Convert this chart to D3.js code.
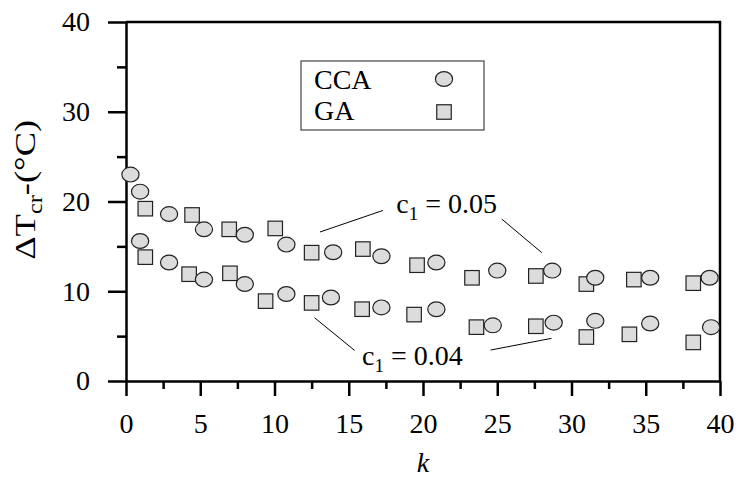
<!DOCTYPE html>
<html>
<head>
<meta charset="utf-8">
<script src="https://cdn.jsdelivr.net/npm/d3@7"></script>
<style>
  body { margin: 0; background: #fff; }
  svg text { font-family: "Liberation Serif", "Times New Roman", serif; fill: #000; }
</style>
</head>
<body>
<div id="chart"></div>
<script>
const width = 738;
const height = 483;
const margin = { top: 22, right: 18, bottom: 102, left: 126 };

// c1 = 0.05
const kCCA05 = [0.3, 0.95, 2.9, 5.25, 8.0, 10.8, 13.95, 17.2, 20.9, 25.0, 28.7, 31.6, 35.3, 39.3];
const tCCA05 = [23.0, 21.1, 18.6, 16.9, 16.3, 15.2, 14.35, 13.9, 13.2, 12.3, 12.3, 11.5, 11.5, 11.5];
const kGA05 = [1.3, 4.45, 6.95, 10.05, 12.5, 15.95, 19.6, 23.3, 27.6, 31.0, 34.2, 38.2];
const tGA05 = [19.2, 18.5, 16.9, 17.0, 14.3, 14.7, 12.9, 11.5, 11.7, 10.8, 11.3, 10.9];

// c1 = 0.04
const kCCA04 = [0.95, 2.9, 5.25, 8.0, 10.8, 13.8, 17.2, 20.9, 24.7, 28.8, 31.6, 35.3, 39.4];
const tCCA04 = [15.6, 13.2, 11.3, 10.8, 9.7, 9.3, 8.2, 8.0, 6.2, 6.5, 6.7, 6.4, 6.0];
const kGA04 = [1.3, 4.25, 7.0, 9.4, 12.5, 15.9, 19.4, 23.6, 27.6, 31.0, 33.9, 38.2];
const tGA04 = [13.8, 11.9, 12.0, 8.9, 8.7, 8.0, 7.4, 6.0, 6.1, 4.9, 5.2, 4.3];

const xMajor = [0, 5, 10, 15, 20, 25, 30, 35, 40];
const xMinor = [2.5, 7.5, 12.5, 17.5, 22.5, 27.5, 32.5, 37.5];
const yMajor = [0, 10, 20, 30, 40];
const yMinor = [5, 15, 25, 35];

const fillColor = "#dcdcdc";
const strokeColor = "#222";
const fs = 28;

const svg = d3.select("#chart")
    .append("svg")
    .attr("width", width)
    .attr("height", height);

const x = d3.scaleLinear().domain([0, 40]).range([margin.left, width - margin.right]);
const y = d3.scaleLinear().domain([0, 40]).range([height - margin.bottom, margin.top]);

// frame: top and right border
svg.append("path")
    .attr("d", `M${x(0)},${y(40)}H${x(40)}V${y(0)}`)
    .attr("fill", "none")
    .attr("stroke", "#000")
    .attr("stroke-width", 2.5);

// axes
function styleAxis(g) {
    g.select(".domain").attr("stroke-width", 2.5);
    g.selectAll(".tick line").attr("stroke-width", 2.5);
    g.selectAll(".tick text").style("font-size", fs + "px");
}

svg.append("g")
    .attr("transform", `translate(0,${y(0)})`)
    .call(d3.axisBottom(x).tickValues(xMinor).tickSize(8).tickFormat(""))
    .call(g => g.select(".domain").remove())
    .call(g => g.selectAll(".tick line").attr("stroke-width", 2.5));

svg.append("g")
    .attr("transform", `translate(0,${y(0)})`)
    .call(d3.axisBottom(x).tickValues(xMajor).tickSize(15).tickSizeOuter(0).tickPadding(17))
    .call(styleAxis);

svg.append("g")
    .attr("transform", `translate(${x(0)},0)`)
    .call(d3.axisLeft(y).tickValues(yMinor).tickSize(9).tickFormat(""))
    .call(g => g.select(".domain").remove())
    .call(g => g.selectAll(".tick line").attr("stroke-width", 2.5));

svg.append("g")
    .attr("transform", `translate(${x(0)},0)`)
    .call(d3.axisLeft(y).tickValues(yMajor).tickSize(18).tickSizeOuter(0).tickPadding(18))
    .call(styleAxis);

// axis titles
svg.append("text")
    .attr("x", x(20))
    .attr("y", 472)
    .attr("text-anchor", "middle")
    .style("font-size", fs + "px")
    .style("font-style", "italic")
    .text("k");

const yTitle = svg.append("text")
    .attr("transform", `translate(35,${y(21.3)}) rotate(-90)`)
    .attr("text-anchor", "middle")
    .attr("textLength", 140)
    .attr("lengthAdjust", "spacingAndGlyphs")
    .style("font-size", "30px");
yTitle.append("tspan").text("\u0394T");
yTitle.append("tspan").attr("dy", 7).style("font-size", "20px").text("cr");
yTitle.append("tspan").attr("dy", -7).text("-(\u00B0C)");

// markers
const rx = 8.6, ry = 7.4, sq = 14.5;

function circles(ks, ts) {
    svg.append("g").selectAll("ellipse")
        .data(d3.zip(ks, ts))
        .join("ellipse")
        .attr("cx", d => x(d[0]))
        .attr("cy", d => y(d[1]))
        .attr("rx", rx)
        .attr("ry", ry)
        .attr("fill", fillColor)
        .attr("stroke", strokeColor)
        .attr("stroke-width", 1.2);
}

function squares(ks, ts) {
    svg.append("g").selectAll("rect")
        .data(d3.zip(ks, ts))
        .join("rect")
        .attr("x", d => x(d[0]) - sq / 2)
        .attr("y", d => y(d[1]) - sq / 2)
        .attr("width", sq)
        .attr("height", sq)
        .attr("fill", fillColor)
        .attr("stroke", strokeColor)
        .attr("stroke-width", 1.2);
}

squares(kGA05, tGA05);
squares(kGA04, tGA04);
circles(kCCA05, tCCA05);
circles(kCCA04, tCCA04);

// legend
const legend = svg.append("g");
legend.append("rect")
    .attr("x", 301).attr("y", 61)
    .attr("width", 183).attr("height", 69)
    .attr("fill", "#fff")
    .attr("stroke", "#444")
    .attr("stroke-width", 1.2);
legend.append("text").attr("x", 314).attr("y", 89).style("font-size", fs + "px").text("CCA");
legend.append("text").attr("x", 314).attr("y", 120).style("font-size", fs + "px").text("GA");
legend.append("ellipse")
    .attr("cx", 444).attr("cy", 79).attr("rx", rx).attr("ry", ry)
    .attr("fill", fillColor).attr("stroke", strokeColor).attr("stroke-width", 1.2);
legend.append("rect")
    .attr("x", 444 - sq / 2).attr("y", 112 - sq / 2).attr("width", sq).attr("height", sq)
    .attr("fill", fillColor).attr("stroke", strokeColor).attr("stroke-width", 1.2);

// annotations (data coordinates)
const notes = [
    { label: "0.05", k: 18.2, t: 18.7, lines: [[13.06, 16.6, 17.3, 19.0], [25.3, 18.05, 28.0, 14.3]] },
    { label: "0.04", k: 15.9, t: 1.8, lines: [[12.7, 7.05, 15.4, 3.4], [24.55, 3.45, 28.65, 4.75]] }
];

notes.forEach(n => {
    const t = svg.append("text")
        .attr("x", x(n.k))
        .attr("y", y(n.t))
        .style("font-size", fs + "px");
    t.append("tspan").text("c");
    t.append("tspan").attr("dy", 7).style("font-size", "19px").text("1");
    t.append("tspan").attr("dy", -7).text(" = " + n.label);
    n.lines.forEach(l => {
        svg.append("line")
            .attr("x1", x(l[0])).attr("y1", y(l[1]))
            .attr("x2", x(l[2])).attr("y2", y(l[3]))
            .attr("stroke", "#000")
            .attr("stroke-width", 1);
    });
});
</script>
</body>
</html>
